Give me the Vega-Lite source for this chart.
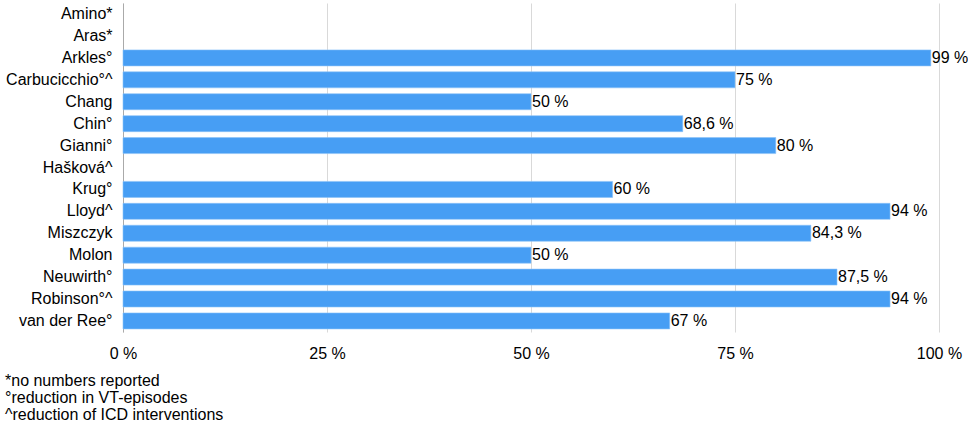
{
  "$schema": "https://vega.github.io/schema/vega-lite/v6.json",
  "width": 816,
  "height": 329,
  "autosize": "none",
  "padding": {"left": 123, "top": 3, "right": 29, "bottom": 93},
  "background": "white",
  "config": {
    "font": "Liberation Sans",
    "view": {"stroke": null}
  },
  "title": {
    "text": ["*no numbers reported", "°reduction in VT-episodes", "^reduction of ICD interventions"],
    "orient": "bottom",
    "anchor": "start",
    "frame": "group",
    "dx": -118,
    "offset": 12,
    "fontSize": 16,
    "fontWeight": "normal",
    "lineHeight": 17,
    "color": "#000000"
  },
  "data": {
    "values": [
      {"study": "Amino*", "value": null, "label": ""},
      {"study": "Aras*", "value": null, "label": ""},
      {"study": "Arkles°", "value": 99, "label": "99 %"},
      {"study": "Carbucicchio°^", "value": 75, "label": "75 %"},
      {"study": "Chang", "value": 50, "label": "50 %"},
      {"study": "Chin°", "value": 68.6, "label": "68,6 %"},
      {"study": "Gianni°", "value": 80, "label": "80 %"},
      {"study": "Hašková^", "value": null, "label": ""},
      {"study": "Krug°", "value": 60, "label": "60 %"},
      {"study": "Lloyd^", "value": 94, "label": "94 %"},
      {"study": "Miszczyk", "value": 84.3, "label": "84,3 %"},
      {"study": "Molon", "value": 50, "label": "50 %"},
      {"study": "Neuwirth°", "value": 87.5, "label": "87,5 %"},
      {"study": "Robinson°^", "value": 94, "label": "94 %"},
      {"study": "van der Ree°", "value": 67, "label": "67 %"}
    ]
  },
  "encoding": {
    "y": {
      "field": "study",
      "type": "nominal",
      "sort": null,
      "scale": {
        "domain": ["Amino*", "Aras*", "Arkles°", "Carbucicchio°^", "Chang", "Chin°", "Gianni°", "Hašková^", "Krug°", "Lloyd^", "Miszczyk", "Molon", "Neuwirth°", "Robinson°^", "van der Ree°"],
        "paddingInner": 0.27,
        "paddingOuter": 0.14
      },
      "axis": {
        "title": null,
        "ticks": false,
        "domain": true,
        "domainColor": "#aaaaaa",
        "labelFontSize": 16,
        "labelColor": "#000000",
        "labelPadding": 11,
        "grid": false
      }
    },
    "x": {
      "field": "value",
      "type": "quantitative",
      "scale": {"domain": [0, 100], "nice": false},
      "axis": {
        "title": null,
        "values": [0, 25, 50, 75, 100],
        "labelExpr": "datum.value + ' %'",
        "ticks": false,
        "domain": false,
        "grid": true,
        "gridColor": "#d9d9d9",
        "labelFontSize": 16,
        "labelColor": "#000000",
        "labelPadding": 13,
        "labelFlush": false
      }
    }
  },
  "layer": [
    {
      "mark": {"type": "bar", "color": "#479ef4", "stroke": "#8cc3f8", "strokeWidth": 0.6}
    },
    {
      "mark": {"type": "text", "align": "left", "baseline": "middle", "dx": 1, "fontSize": 16, "color": "#000000"},
      "encoding": {"text": {"field": "label"}}
    }
  ]
}
